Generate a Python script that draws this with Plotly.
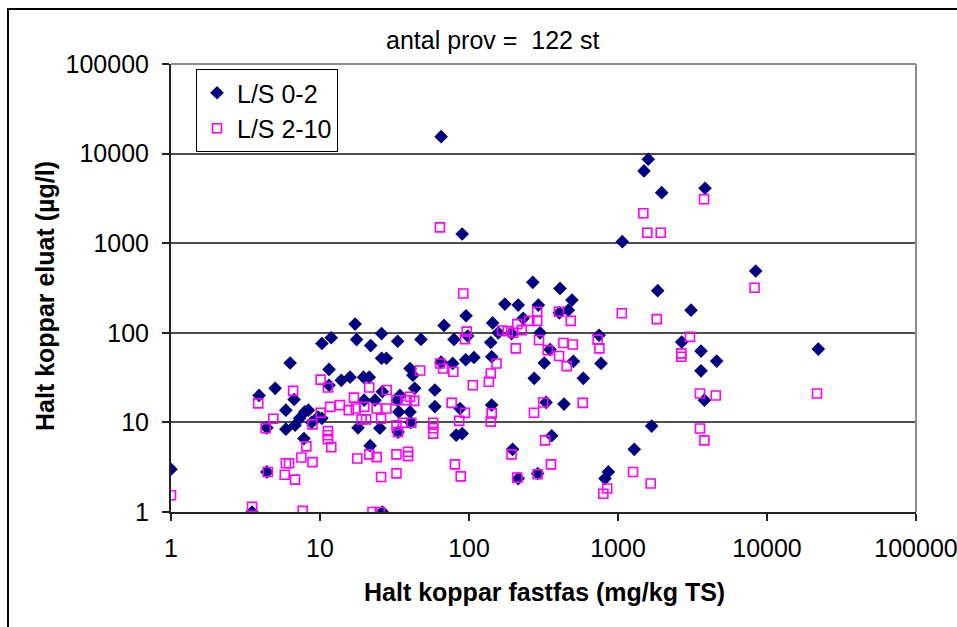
import plotly.graph_objects as go

# ---- data ----
ls02_x = [1.0, 3.5, 3.9, 5.0, 4.4, 4.4, 5.9, 5.9,
          17.2, 10.3, 11.9, 17.6, 21.9, 25.9, 6.3, 11.5, 6.7, 8.35, 9.7, 13.9, 15.9, 19.6, 21.4, 11.5, 25.9,
          6.8, 7.3, 7.9, 8.8, 10.3, 7.8, 19.8, 18.0, 23.4, 26.2, 21.7, 25.2, 26.2,
          95.5, 68, 33.2, 47.6, 79.3, 98, 27.9, 95, 108, 40.2, 42, 43.2, 65, 77.7, 59, 59, 34.4, 33.8, 40.2,
          33.4, 40.7, 82, 90, 87, 33, 65, 90,
          268, 408, 491, 464, 404, 174, 214, 292, 231, 144, 157, 193, 300, 140, 142, 350, 320, 502, 274, 585,
          329, 434, 142, 359, 196, 214, 289,
          1597, 1494, 1964, 3838, 1069, 8400, 1847, 3091, 746, 769, 2676, 3607, 4594, 3607, 22090, 3800,
          1683, 1286, 861, 818]
ls02_y = [3.0, 1.0, 20, 24, 8.7, 2.8, 13.7, 8.4,
          125, 76, 88, 84, 72, 98, 46, 39, 18, 13.7, 11.5, 29.5, 32, 32, 32, 26, 52,
          9.3, 11.1, 13.1, 10, 11.1, 6.6, 17.7, 8.7, 17.7, 22, 5.5, 8.6, 1.0,
          155, 121, 80.5, 84.4, 84.4, 92, 52, 50, 53, 40, 33.6, 24, 47, 45.5, 23, 15, 20, 13.1, 13.1,
          7.8, 10, 7.2, 7.5, 14.3, 17.7, 15450, 1268,
          366, 313, 232, 179, 167, 209, 204, 204, 145, 129, 100, 98, 100, 78, 54, 65, 46, 48, 31, 31,
          16.7, 16, 15.6, 7.1, 5.0, 2.36, 2.69,
          8650, 6410, 3665, 4105, 1040, 489, 295, 179, 94, 45.5, 79, 62.5, 48.3, 37.6, 65.8, 17.7,
          9.1, 5.0, 2.8, 2.36]

ls210_x = [1.0, 3.5, 3.85, 4.86, 4.32, 4.46,
           10.1, 11.3, 6.6, 21.4, 8.9, 10.1, 11.7, 13.6, 15.6, 16.9, 17.4, 19.8, 19.0, 20.4, 24, 25.7,
           11.3, 11.3, 11.3, 8.1, 11.9, 5.9, 6.2, 7.5, 8.9, 5.8, 6.8, 17.8, 21.4, 24, 25.7, 7.65, 22.5, 25.2,
           96.5, 94, 64, 67, 78.5, 47, 106, 28, 32.6, 40.2, 42.9, 38.1, 27.9, 76.5, 94, 86, 32.6, 36, 41,
           33.4, 57.5, 57.5, 57.5, 32.6, 39, 39, 32.6, 80.5, 88, 91.5, 63.8,
           287, 287, 254, 211, 226, 167, 182, 198, 206, 295, 402, 482, 430, 497, 402, 453, 338, 153, 140, 136,
           315, 273, 580, 142, 140, 324, 193, 355, 211, 289,
           3780, 1479, 1573, 1935, 8250, 1060, 1820, 730, 750, 3040, 2660, 2660, 3550, 4527, 21660, 3550,
           3800, 1262, 1657, 846, 797]
ls210_y = [1.54, 1.14, 16.3, 11, 8.6, 2.8,
           30, 24.5, 22.5, 24.5, 9.5, 12.8, 14.9, 15.6, 13.7, 18.9, 14.3, 14.9, 10.8, 10.8, 14.3, 11,
           8.0, 7.2, 6.5, 5.4, 5.3, 3.5, 3.5, 4.06, 3.6, 2.6, 2.3, 3.95, 4.4, 4.1, 2.46, 1.03, 1.0, 1.0,
           103, 85, 45.5, 40, 36.7, 38, 26, 23, 17.7, 19.3, 17.4, 17.7, 14.3, 16.5, 12.8, 10.4, 9.3, 9.9, 9.9,
           7.8, 9.9, 8.6, 7.5, 4.4, 4.7, 4.2, 2.7, 3.4, 2.5, 275, 1500,
           172, 136, 136, 125, 107, 106, 104, 100, 67, 83, 172, 136, 77, 74, 55, 42.5, 64, 45.5, 35.2, 28.4,
           16.7, 12.8, 16.5, 12.6, 10.2, 6.3, 4.4, 3.4, 2.42, 2.64,
           3094, 2159, 1310, 1310, 318, 165, 142, 84, 67, 90, 59, 54, 21, 20, 21, 8.55,
           6.3, 2.8, 2.08, 1.83, 1.6]

tick_vals = [1, 10, 100, 1000, 10000, 100000]
tick_text = ["1", "10", "100", "1000", "10000", "100000"]

series_names = ["L/S 0-2", "L/S 2-10"]
title_text = "antal prov =  122 st"
x_title = "Halt koppar fastfas (mg/kg TS)"
y_title = "Halt koppar eluat (µg/l)"

FONT = "Liberation Sans, Arial, sans-serif"

fig = go.Figure()
fig.add_trace(go.Scatter(
    x=ls02_x, y=ls02_y, mode="markers", name=series_names[0],
    marker=dict(symbol="diamond", size=10.5, color="#000080", line=dict(width=0)),
))
fig.add_trace(go.Scatter(
    x=ls210_x, y=ls210_y, mode="markers", name=series_names[1],
    marker=dict(symbol="square-open", size=9, color="#FF00FF", line=dict(width=1.6, color="#FF00FF")),
))

# plot-area geometry in pixels
L, R, T, B = 171, 916, 64, 512
W, H = 957, 627
pw, ph = R - L, B - T

def px2paper_x(px):
    return (px - L) / pw

def px2paper_y(py):
    return (B - py) / ph

fig.update_layout(
    width=W, height=H, autosize=False,
    margin=dict(l=L, r=W - R, t=T, b=H - B, pad=0, autoexpand=False),
    paper_bgcolor="white", plot_bgcolor="white",
    font=dict(family=FONT, size=25, color="black"),
    showlegend=True,
    legend=dict(
        x=px2paper_x(196), y=px2paper_y(69), xanchor="left", yanchor="top",
        bgcolor="white", bordercolor="black", borderwidth=1,
        font=dict(family=FONT, size=25, color="black"),
        itemsizing="trace", tracegroupgap=0,
    ),
    xaxis=dict(
        type="log", range=[0, 5], tickvals=tick_vals, ticktext=tick_text,
        showgrid=False, zeroline=False, automargin=False,
        showline=True, linecolor="#222", linewidth=2,
        ticks="outside", ticklen=7, tickwidth=1.5, tickcolor="#222",
        tickfont=dict(family=FONT, size=25, color="black"),
        ticklabelstandoff=6, ticklabeloverflow="allow",
    ),
    yaxis=dict(
        type="log", range=[0, 5], tickvals=tick_vals, ticktext=tick_text,
        showgrid=True, gridcolor="#4d4d4d", gridwidth=1.5, zeroline=False, automargin=False,
        showline=True, linecolor="#222", linewidth=2,
        ticks="outside", ticklen=7, tickwidth=1.5, tickcolor="#222",
        tickfont=dict(family=FONT, size=25, color="black"),
        ticklabelstandoff=8, ticklabeloverflow="allow",
    ),
    annotations=[
        dict(text=title_text, xref="paper", yref="paper",
             x=px2paper_x(492), y=px2paper_y(40), xanchor="center", yanchor="middle",
             showarrow=False, font=dict(family=FONT, size=25, color="black")),
        dict(text="<b>" + x_title + "</b>", xref="paper", yref="paper",
             x=px2paper_x(544), y=px2paper_y(592), xanchor="center", yanchor="middle",
             showarrow=False, font=dict(family=FONT, size=25, color="black")),
        dict(text="<b>" + y_title + "</b>", xref="paper", yref="paper", textangle=-90,
             x=px2paper_x(45), y=px2paper_y(296), xanchor="center", yanchor="middle",
             showarrow=False, font=dict(family=FONT, size=25, color="black")),
    ],
    shapes=[
        dict(type="line", xref="paper", yref="paper", x0=0, x1=1, y0=1, y1=1,
             line=dict(color="#8c8c8c", width=2), layer="above"),
        dict(type="line", xref="paper", yref="paper", x0=1, x1=1, y0=0, y1=1,
             line=dict(color="#8c8c8c", width=2), layer="above"),
        dict(type="rect", xref="paper", yref="paper",
             x0=px2paper_x(8), x1=px2paper_x(975), y0=px2paper_y(640), y1=px2paper_y(9),
             line=dict(color="black", width=2), layer="above"),
    ],
)

fig.write_html(
    "out.html",
    config={"displayModeBar": False, "responsive": False},
    post_script="document.body.style.margin='0px';document.body.style.overflow='hidden';",
)
